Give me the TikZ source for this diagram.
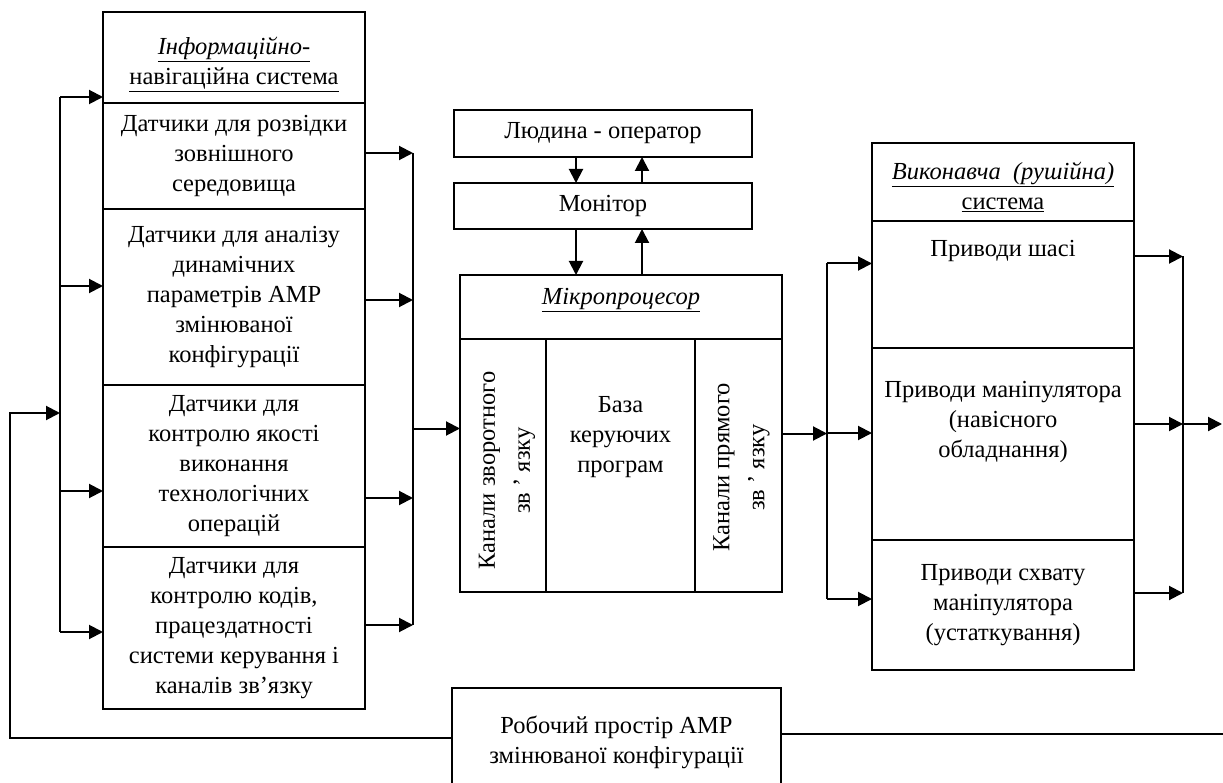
\documentclass[tikz,border=0pt]{standalone}
\usepackage{fontspec}
\setmainfont{Liberation Serif}
\usetikzlibrary{positioning,arrows.meta}

\tikzset{
  cell/.style={draw, line width=2pt, anchor=north west, inner sep=0pt, outer sep=0pt,
    align=center, font=\fontsize{24.5}{30}\selectfont},
  txt/.style={inner sep=0pt, align=center, font=\fontsize{24.5}{30}\selectfont},
  con/.style={line width=2pt},
  arr/.style={con, -{Triangle[length=14pt,width=14pt]}},
}

\begin{document}
\begin{tikzpicture}[x=1pt,y=-1pt]
\clip (0,0) rectangle (1223,783);
% information and navigation system
\node[cell, minimum width=262pt, minimum height=91pt] (ihead) at (103,12) {};
\node[txt] (iheadt) at ([yshift=-7pt]ihead.center) {\itshape\underline{Інформаційно-}\\\underline{навігаційна система}};
\node[cell, minimum width=262pt, minimum height=106pt] (s1) at (ihead.south west) {Датчики для розвідки\\зовнішного\\середовища};
\node[cell, minimum width=262pt, minimum height=176pt] (s2) at (s1.south west) {Датчики для аналізу\\динамічних\\параметрів АМР\\змінюваної\\конфігурації};
\node[cell, minimum width=262pt, minimum height=162pt] (s3) at (s2.south west) {Датчики для\\контролю якості\\виконання\\технологічних\\операцій};
\node[cell, minimum width=262pt, minimum height=162pt] (s4) at (s3.south west) {Датчики для\\контролю кодів,\\працездатності\\системи керування і\\каналів зв’язку};

% operator, monitor
\node[cell, minimum width=298pt, minimum height=47pt] (oper) at (454,110) {Людина - оператор};
\node[cell, minimum width=298pt, minimum height=46pt] (mon) at (454,183) {Монітор};

% microprocessor
\node[cell, minimum width=322pt, minimum height=64pt] (mhead) at (460,275) {};
\node[txt] (mheadt) at ([yshift=7pt]mhead.center) {\itshape\underline{Мікропроцесор}};
\node[cell, minimum width=86pt, minimum height=253pt] (c1) at (mhead.south west) {};
\node[cell, minimum width=149pt, minimum height=253pt] (c2) at (c1.north east) {};
\node[cell, minimum width=87pt, minimum height=253pt] (c3) at (c2.north east) {};
\node[txt, rotate=90] (c1t) at ([xshift=4pt,yshift=-5pt]c1.center) {Канали зворотного\\[5pt]зв ’ язку};
\node[txt] (c2t) at ([yshift=28pt]c2.center) {База\\керуючих\\програм};
\node[txt, rotate=90] (c3t) at ([xshift=3pt,yshift=-2pt]c3.center) {Канали прямого\\[5pt]зв ’ язку};

% executive system
\node[cell, minimum width=262pt, minimum height=78pt] (rhead) at (872,143) {};
\node[txt] (rheadt) at ([yshift=-5pt]rhead.center) {\itshape\underline{Виконавча\ \ (рушійна)}\\\underline{система}};
\node[cell, minimum width=262pt, minimum height=127pt] (r1) at (rhead.south west) {};
\node[txt] (r1t) at ([yshift=34pt]r1.center) {Приводи шасі};
\node[cell, minimum width=262pt, minimum height=192pt] (r2) at (r1.south west) {};
\node[txt] (r2t) at ([yshift=22pt]r2.center) {Приводи маніпулятора\\(навісного\\обладнання)};
\node[cell, minimum width=262pt, minimum height=130pt] (r3) at (r2.south west) {Приводи схвату\\маніпулятора\\(устаткування)};

% working space
\node[cell, minimum width=329pt, minimum height=108pt] (work) at (452,688) {Робочий простір АМР\\змінюваної конфігурації};

% buses
\coordinate (busA) at (60,0);
\coordinate (busB) at (413,0);
\coordinate (busC) at (827,0);
\coordinate (busD) at (1183,0);

% into the sensors
\coordinate (i1) at ([yshift=6pt]s1.north west);
\coordinate (i2) at ([yshift=11pt]s2.west);
\coordinate (i3) at ([yshift=-25pt]s3.west);
\coordinate (i4) at ([yshift=-4pt]s4.west);
\draw[con] (busA |- i1) -- (busA |- i4);
\foreach \p in {i1,i2,i3,i4}
  \draw[arr] (busA |- \p) -- (\p);
\coordinate (fb) at (10,413);
\draw[arr] ([yshift=4pt]work.west) -| (fb) -- (busA |- fb);

% out of the sensors
\coordinate (o1) at ([yshift=3pt]s1.east);
\coordinate (o2) at ([yshift=-3pt]s2.east);
\coordinate (o3) at ([yshift=-32pt]s3.east);
\coordinate (o4) at ([yshift=3pt]s4.east);
\foreach \p in {o1,o2,o3,o4}
  \draw[arr] (\p) -- (busB |- \p);
\draw[con] (busB |- o1) -- (busB |- o4);
\coordinate (m1) at ([yshift=37pt]c1.west);
\draw[arr] (busB |- m1) -- (m1);

% operator <-> monitor <-> microprocessor
\coordinate (d1) at ([xshift=-27pt]oper.south);
\coordinate (u1) at ([xshift=39pt]oper.south);
\coordinate (d2) at ([xshift=-27pt]mon.south);
\coordinate (u2) at ([xshift=39pt]mon.south);
\draw[arr] (d1) -- (d1 |- mon.north);
\draw[arr] (u1 |- mon.north) -- (u1);
\draw[arr] (d2) -- (d2 |- mhead.north);
\draw[arr] (u2 |- mhead.north) -- (u2);

% microprocessor -> drives
\coordinate (m2) at ([yshift=32pt]c3.east);
\draw[arr] (m2) -- (busC |- m2);
\coordinate (e1) at ([yshift=21pt]r1.west);
\coordinate (e2) at ([yshift=11pt]r2.west);
\coordinate (e3) at ([yshift=6pt]r3.west);
\draw[con] (busC |- e1) -- (busC |- e3);
\foreach \p in {e1,e2,e3}
  \draw[arr] (busC |- \p) -- (\p);

% out of the drives
\coordinate (f1) at ([yshift=28pt]r1.east);
\coordinate (f2) at ([yshift=20pt]r2.east);
\coordinate (f3) at ([yshift=12pt]r3.east);
\foreach \p in {f1,f2,f3}
  \draw[arr] (\p) -- (busD |- \p);
\draw[con] (busD |- f1) -- (busD |- f3);
\coordinate (out) at (1222,424);
\draw[arr] (busD |- out) -- (out);
\coordinate (wr) at (1223,734);
\draw[con] ([yshift=8pt]work.east) -- (wr);
\end{tikzpicture}
\end{document}
